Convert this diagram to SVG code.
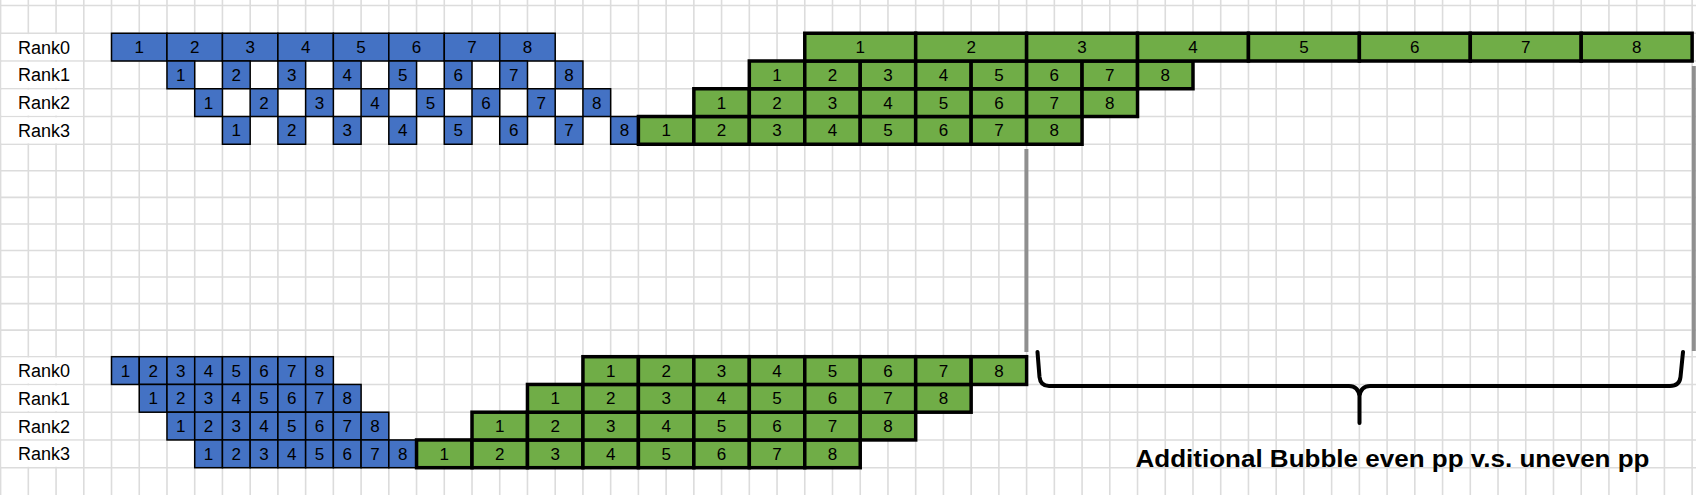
<svg xmlns="http://www.w3.org/2000/svg" width="1696" height="495" viewBox="0 0 1696 495">
<style>
.grid{stroke:#dcdcdc;stroke-width:1.6;fill:none}
.cover{fill:#fff}
.b rect{fill:#4472C4;stroke:#000;stroke-width:1.5}
.g rect{fill:#70AD47;stroke:#000;stroke-width:3.5}
text{font-family:"Liberation Sans",Arial,sans-serif;fill:#000}
.n text{font-size:17px;text-anchor:middle}
.lbl{font-size:18px}
.gray{stroke:#8f8f8f;stroke-width:4;fill:none}
.brace{stroke:#000;stroke-width:4;fill:none;stroke-linecap:round;stroke-linejoin:round}
.note{font-size:23.5px;font-weight:bold}
</style>
<rect width="1696" height="495" fill="#fff"/>
<g id="grid">
<path class="grid" d="M0.6 0V495M28.33 0V495M56.06 0V495M83.79 0V495M111.52 0V495M139.25 0V495M166.98 0V495M194.71 0V495M222.44 0V495M250.17 0V495M277.9 0V495M305.63 0V495M333.36 0V495M361.09 0V495M388.82 0V495M416.55 0V495M444.28 0V495M472.01 0V495M499.74 0V495M527.47 0V495M555.2 0V495M582.93 0V495M610.66 0V495M638.39 0V495M666.12 0V495M693.85 0V495M721.58 0V495M749.31 0V495M777.04 0V495M804.77 0V495M832.5 0V495M860.23 0V495M887.96 0V495M915.69 0V495M943.42 0V495M971.15 0V495M998.88 0V495M1026.61 0V495M1054.34 0V495M1082.07 0V495M1109.8 0V495M1137.53 0V495M1165.26 0V495M1192.99 0V495M1220.72 0V495M1248.45 0V495M1276.18 0V495M1303.91 0V495M1331.64 0V495M1359.37 0V495M1387.1 0V495M1414.83 0V495M1442.56 0V495M1470.29 0V495M1498.02 0V495M1525.75 0V495M1553.48 0V495M1581.21 0V495M1608.94 0V495M1636.67 0V495M1664.4 0V495M1692.13 0V495M0 5.5H1696M0 33.25H1696M0 61H1696M0 88.75H1696M0 116.5H1696M0 144.25H1696M0 170.81H1696M0 197.37H1696M0 223.93H1696M0 250.49H1696M0 277.05H1696M0 303.61H1696M0 330.17H1696M0 356.7H1696M0 384.45H1696M0 412.2H1696M0 439.95H1696M0 467.7H1696"/>
<rect class="cover" x="1.5" y="34.1" width="81.4" height="26"/>
<rect class="cover" x="1.5" y="61.85" width="81.4" height="26"/>
<rect class="cover" x="1.5" y="89.6" width="81.4" height="26"/>
<rect class="cover" x="1.5" y="117.35" width="81.4" height="26"/>
<rect class="cover" x="1.5" y="357.55" width="81.4" height="26"/>
<rect class="cover" x="1.5" y="385.3" width="81.4" height="26"/>
<rect class="cover" x="1.5" y="413.05" width="81.4" height="26"/>
<rect class="cover" x="1.5" y="440.8" width="81.4" height="26"/>
</g>
<g id="labels">
<text class="lbl" x="18" y="53.5">Rank0</text>
<text class="lbl" x="18" y="81.3">Rank1</text>
<text class="lbl" x="18" y="109">Rank2</text>
<text class="lbl" x="18" y="136.8">Rank3</text>
<text class="lbl" x="18" y="377">Rank0</text>
<text class="lbl" x="18" y="404.7">Rank1</text>
<text class="lbl" x="18" y="432.5">Rank2</text>
<text class="lbl" x="18" y="460.2">Rank3</text>
</g>
<!-- TOP: blue (forward) -->
<g id="top-blue" class="b n">
<g id="t-b0-1"><rect x="111.52" y="33.25" width="55.46" height="27.75"/><text x="139.25" y="53.1">1</text></g>
<g id="t-b0-2"><rect x="166.98" y="33.25" width="55.46" height="27.75"/><text x="194.71" y="53.1">2</text></g>
<g id="t-b0-3"><rect x="222.44" y="33.25" width="55.46" height="27.75"/><text x="250.17" y="53.1">3</text></g>
<g id="t-b0-4"><rect x="277.9" y="33.25" width="55.46" height="27.75"/><text x="305.63" y="53.1">4</text></g>
<g id="t-b0-5"><rect x="333.36" y="33.25" width="55.46" height="27.75"/><text x="361.09" y="53.1">5</text></g>
<g id="t-b0-6"><rect x="388.82" y="33.25" width="55.46" height="27.75"/><text x="416.55" y="53.1">6</text></g>
<g id="t-b0-7"><rect x="444.28" y="33.25" width="55.46" height="27.75"/><text x="472.01" y="53.1">7</text></g>
<g id="t-b0-8"><rect x="499.74" y="33.25" width="55.46" height="27.75"/><text x="527.47" y="53.1">8</text></g>
<g id="t-b1-1"><rect x="166.98" y="61" width="27.73" height="27.75"/><text x="180.85" y="80.9">1</text></g>
<g id="t-b1-2"><rect x="222.44" y="61" width="27.73" height="27.75"/><text x="236.31" y="80.9">2</text></g>
<g id="t-b1-3"><rect x="277.9" y="61" width="27.73" height="27.75"/><text x="291.77" y="80.9">3</text></g>
<g id="t-b1-4"><rect x="333.36" y="61" width="27.73" height="27.75"/><text x="347.23" y="80.9">4</text></g>
<g id="t-b1-5"><rect x="388.82" y="61" width="27.73" height="27.75"/><text x="402.69" y="80.9">5</text></g>
<g id="t-b1-6"><rect x="444.28" y="61" width="27.73" height="27.75"/><text x="458.15" y="80.9">6</text></g>
<g id="t-b1-7"><rect x="499.74" y="61" width="27.73" height="27.75"/><text x="513.61" y="80.9">7</text></g>
<g id="t-b1-8"><rect x="555.2" y="61" width="27.73" height="27.75"/><text x="569.07" y="80.9">8</text></g>
<g id="t-b2-1"><rect x="194.71" y="88.75" width="27.73" height="27.75"/><text x="208.58" y="108.6">1</text></g>
<g id="t-b2-2"><rect x="250.17" y="88.75" width="27.73" height="27.75"/><text x="264.04" y="108.6">2</text></g>
<g id="t-b2-3"><rect x="305.63" y="88.75" width="27.73" height="27.75"/><text x="319.5" y="108.6">3</text></g>
<g id="t-b2-4"><rect x="361.09" y="88.75" width="27.73" height="27.75"/><text x="374.96" y="108.6">4</text></g>
<g id="t-b2-5"><rect x="416.55" y="88.75" width="27.73" height="27.75"/><text x="430.42" y="108.6">5</text></g>
<g id="t-b2-6"><rect x="472.01" y="88.75" width="27.73" height="27.75"/><text x="485.88" y="108.6">6</text></g>
<g id="t-b2-7"><rect x="527.47" y="88.75" width="27.73" height="27.75"/><text x="541.34" y="108.6">7</text></g>
<g id="t-b2-8"><rect x="582.93" y="88.75" width="27.73" height="27.75"/><text x="596.8" y="108.6">8</text></g>
<g id="t-b3-1"><rect x="222.44" y="116.5" width="27.73" height="27.75"/><text x="236.31" y="136.4">1</text></g>
<g id="t-b3-2"><rect x="277.9" y="116.5" width="27.73" height="27.75"/><text x="291.77" y="136.4">2</text></g>
<g id="t-b3-3"><rect x="333.36" y="116.5" width="27.73" height="27.75"/><text x="347.23" y="136.4">3</text></g>
<g id="t-b3-4"><rect x="388.82" y="116.5" width="27.73" height="27.75"/><text x="402.69" y="136.4">4</text></g>
<g id="t-b3-5"><rect x="444.28" y="116.5" width="27.73" height="27.75"/><text x="458.15" y="136.4">5</text></g>
<g id="t-b3-6"><rect x="499.74" y="116.5" width="27.73" height="27.75"/><text x="513.61" y="136.4">6</text></g>
<g id="t-b3-7"><rect x="555.2" y="116.5" width="27.73" height="27.75"/><text x="569.07" y="136.4">7</text></g>
<g id="t-b3-8"><rect x="610.66" y="116.5" width="27.73" height="27.75"/><text x="624.53" y="136.4">8</text></g>
</g>
<!-- TOP: green (backward) -->
<g id="top-green" class="g n">
<g id="t-g3-1"><rect x="638.39" y="116.5" width="55.46" height="27.75"/><text x="666.12" y="136.4">1</text></g>
<g id="t-g3-2"><rect x="693.85" y="116.5" width="55.46" height="27.75"/><text x="721.58" y="136.4">2</text></g>
<g id="t-g3-3"><rect x="749.31" y="116.5" width="55.46" height="27.75"/><text x="777.04" y="136.4">3</text></g>
<g id="t-g3-4"><rect x="804.77" y="116.5" width="55.46" height="27.75"/><text x="832.5" y="136.4">4</text></g>
<g id="t-g3-5"><rect x="860.23" y="116.5" width="55.46" height="27.75"/><text x="887.96" y="136.4">5</text></g>
<g id="t-g3-6"><rect x="915.69" y="116.5" width="55.46" height="27.75"/><text x="943.42" y="136.4">6</text></g>
<g id="t-g3-7"><rect x="971.15" y="116.5" width="55.46" height="27.75"/><text x="998.88" y="136.4">7</text></g>
<g id="t-g3-8"><rect x="1026.61" y="116.5" width="55.46" height="27.75"/><text x="1054.34" y="136.4">8</text></g>
<g id="t-g2-1"><rect x="693.85" y="88.75" width="55.46" height="27.75"/><text x="721.58" y="108.6">1</text></g>
<g id="t-g2-2"><rect x="749.31" y="88.75" width="55.46" height="27.75"/><text x="777.04" y="108.6">2</text></g>
<g id="t-g2-3"><rect x="804.77" y="88.75" width="55.46" height="27.75"/><text x="832.5" y="108.6">3</text></g>
<g id="t-g2-4"><rect x="860.23" y="88.75" width="55.46" height="27.75"/><text x="887.96" y="108.6">4</text></g>
<g id="t-g2-5"><rect x="915.69" y="88.75" width="55.46" height="27.75"/><text x="943.42" y="108.6">5</text></g>
<g id="t-g2-6"><rect x="971.15" y="88.75" width="55.46" height="27.75"/><text x="998.88" y="108.6">6</text></g>
<g id="t-g2-7"><rect x="1026.61" y="88.75" width="55.46" height="27.75"/><text x="1054.34" y="108.6">7</text></g>
<g id="t-g2-8"><rect x="1082.07" y="88.75" width="55.46" height="27.75"/><text x="1109.8" y="108.6">8</text></g>
<g id="t-g1-1"><rect x="749.31" y="61" width="55.46" height="27.75"/><text x="777.04" y="80.9">1</text></g>
<g id="t-g1-2"><rect x="804.77" y="61" width="55.46" height="27.75"/><text x="832.5" y="80.9">2</text></g>
<g id="t-g1-3"><rect x="860.23" y="61" width="55.46" height="27.75"/><text x="887.96" y="80.9">3</text></g>
<g id="t-g1-4"><rect x="915.69" y="61" width="55.46" height="27.75"/><text x="943.42" y="80.9">4</text></g>
<g id="t-g1-5"><rect x="971.15" y="61" width="55.46" height="27.75"/><text x="998.88" y="80.9">5</text></g>
<g id="t-g1-6"><rect x="1026.61" y="61" width="55.46" height="27.75"/><text x="1054.34" y="80.9">6</text></g>
<g id="t-g1-7"><rect x="1082.07" y="61" width="55.46" height="27.75"/><text x="1109.8" y="80.9">7</text></g>
<g id="t-g1-8"><rect x="1137.53" y="61" width="55.46" height="27.75"/><text x="1165.26" y="80.9">8</text></g>
<g id="t-g0-1"><rect x="804.77" y="33.25" width="110.92" height="27.75"/><text x="860.23" y="53.1">1</text></g>
<g id="t-g0-2"><rect x="915.69" y="33.25" width="110.92" height="27.75"/><text x="971.15" y="53.1">2</text></g>
<g id="t-g0-3"><rect x="1026.61" y="33.25" width="110.92" height="27.75"/><text x="1082.07" y="53.1">3</text></g>
<g id="t-g0-4"><rect x="1137.53" y="33.25" width="110.92" height="27.75"/><text x="1192.99" y="53.1">4</text></g>
<g id="t-g0-5"><rect x="1248.45" y="33.25" width="110.92" height="27.75"/><text x="1303.91" y="53.1">5</text></g>
<g id="t-g0-6"><rect x="1359.37" y="33.25" width="110.92" height="27.75"/><text x="1414.83" y="53.1">6</text></g>
<g id="t-g0-7"><rect x="1470.29" y="33.25" width="110.92" height="27.75"/><text x="1525.75" y="53.1">7</text></g>
<g id="t-g0-8"><rect x="1581.21" y="33.25" width="110.92" height="27.75"/><text x="1636.67" y="53.1">8</text></g>
</g>
<!-- BOTTOM: blue -->
<g id="bottom-blue" class="b n">
<g id="b-b0-1"><rect x="111.52" y="356.7" width="27.73" height="27.75"/><text x="125.39" y="376.6">1</text></g>
<g id="b-b0-2"><rect x="139.25" y="356.7" width="27.73" height="27.75"/><text x="153.12" y="376.6">2</text></g>
<g id="b-b0-3"><rect x="166.98" y="356.7" width="27.73" height="27.75"/><text x="180.85" y="376.6">3</text></g>
<g id="b-b0-4"><rect x="194.71" y="356.7" width="27.73" height="27.75"/><text x="208.58" y="376.6">4</text></g>
<g id="b-b0-5"><rect x="222.44" y="356.7" width="27.73" height="27.75"/><text x="236.31" y="376.6">5</text></g>
<g id="b-b0-6"><rect x="250.17" y="356.7" width="27.73" height="27.75"/><text x="264.04" y="376.6">6</text></g>
<g id="b-b0-7"><rect x="277.9" y="356.7" width="27.73" height="27.75"/><text x="291.77" y="376.6">7</text></g>
<g id="b-b0-8"><rect x="305.63" y="356.7" width="27.73" height="27.75"/><text x="319.5" y="376.6">8</text></g>
<g id="b-b1-1"><rect x="139.25" y="384.45" width="27.73" height="27.75"/><text x="153.12" y="404.3">1</text></g>
<g id="b-b1-2"><rect x="166.98" y="384.45" width="27.73" height="27.75"/><text x="180.85" y="404.3">2</text></g>
<g id="b-b1-3"><rect x="194.71" y="384.45" width="27.73" height="27.75"/><text x="208.58" y="404.3">3</text></g>
<g id="b-b1-4"><rect x="222.44" y="384.45" width="27.73" height="27.75"/><text x="236.31" y="404.3">4</text></g>
<g id="b-b1-5"><rect x="250.17" y="384.45" width="27.73" height="27.75"/><text x="264.04" y="404.3">5</text></g>
<g id="b-b1-6"><rect x="277.9" y="384.45" width="27.73" height="27.75"/><text x="291.77" y="404.3">6</text></g>
<g id="b-b1-7"><rect x="305.63" y="384.45" width="27.73" height="27.75"/><text x="319.5" y="404.3">7</text></g>
<g id="b-b1-8"><rect x="333.36" y="384.45" width="27.73" height="27.75"/><text x="347.23" y="404.3">8</text></g>
<g id="b-b2-1"><rect x="166.98" y="412.2" width="27.73" height="27.75"/><text x="180.85" y="432.1">1</text></g>
<g id="b-b2-2"><rect x="194.71" y="412.2" width="27.73" height="27.75"/><text x="208.58" y="432.1">2</text></g>
<g id="b-b2-3"><rect x="222.44" y="412.2" width="27.73" height="27.75"/><text x="236.31" y="432.1">3</text></g>
<g id="b-b2-4"><rect x="250.17" y="412.2" width="27.73" height="27.75"/><text x="264.04" y="432.1">4</text></g>
<g id="b-b2-5"><rect x="277.9" y="412.2" width="27.73" height="27.75"/><text x="291.77" y="432.1">5</text></g>
<g id="b-b2-6"><rect x="305.63" y="412.2" width="27.73" height="27.75"/><text x="319.5" y="432.1">6</text></g>
<g id="b-b2-7"><rect x="333.36" y="412.2" width="27.73" height="27.75"/><text x="347.23" y="432.1">7</text></g>
<g id="b-b2-8"><rect x="361.09" y="412.2" width="27.73" height="27.75"/><text x="374.96" y="432.1">8</text></g>
<g id="b-b3-1"><rect x="194.71" y="439.95" width="27.73" height="27.75"/><text x="208.58" y="459.8">1</text></g>
<g id="b-b3-2"><rect x="222.44" y="439.95" width="27.73" height="27.75"/><text x="236.31" y="459.8">2</text></g>
<g id="b-b3-3"><rect x="250.17" y="439.95" width="27.73" height="27.75"/><text x="264.04" y="459.8">3</text></g>
<g id="b-b3-4"><rect x="277.9" y="439.95" width="27.73" height="27.75"/><text x="291.77" y="459.8">4</text></g>
<g id="b-b3-5"><rect x="305.63" y="439.95" width="27.73" height="27.75"/><text x="319.5" y="459.8">5</text></g>
<g id="b-b3-6"><rect x="333.36" y="439.95" width="27.73" height="27.75"/><text x="347.23" y="459.8">6</text></g>
<g id="b-b3-7"><rect x="361.09" y="439.95" width="27.73" height="27.75"/><text x="374.96" y="459.8">7</text></g>
<g id="b-b3-8"><rect x="388.82" y="439.95" width="27.73" height="27.75"/><text x="402.69" y="459.8">8</text></g>
</g>
<!-- BOTTOM: green -->
<g id="bottom-green" class="g n">
<g id="b-g3-1"><rect x="416.55" y="439.95" width="55.46" height="27.75"/><text x="444.28" y="459.8">1</text></g>
<g id="b-g3-2"><rect x="472.01" y="439.95" width="55.46" height="27.75"/><text x="499.74" y="459.8">2</text></g>
<g id="b-g3-3"><rect x="527.47" y="439.95" width="55.46" height="27.75"/><text x="555.2" y="459.8">3</text></g>
<g id="b-g3-4"><rect x="582.93" y="439.95" width="55.46" height="27.75"/><text x="610.66" y="459.8">4</text></g>
<g id="b-g3-5"><rect x="638.39" y="439.95" width="55.46" height="27.75"/><text x="666.12" y="459.8">5</text></g>
<g id="b-g3-6"><rect x="693.85" y="439.95" width="55.46" height="27.75"/><text x="721.58" y="459.8">6</text></g>
<g id="b-g3-7"><rect x="749.31" y="439.95" width="55.46" height="27.75"/><text x="777.04" y="459.8">7</text></g>
<g id="b-g3-8"><rect x="804.77" y="439.95" width="55.46" height="27.75"/><text x="832.5" y="459.8">8</text></g>
<g id="b-g2-1"><rect x="472.01" y="412.2" width="55.46" height="27.75"/><text x="499.74" y="432.1">1</text></g>
<g id="b-g2-2"><rect x="527.47" y="412.2" width="55.46" height="27.75"/><text x="555.2" y="432.1">2</text></g>
<g id="b-g2-3"><rect x="582.93" y="412.2" width="55.46" height="27.75"/><text x="610.66" y="432.1">3</text></g>
<g id="b-g2-4"><rect x="638.39" y="412.2" width="55.46" height="27.75"/><text x="666.12" y="432.1">4</text></g>
<g id="b-g2-5"><rect x="693.85" y="412.2" width="55.46" height="27.75"/><text x="721.58" y="432.1">5</text></g>
<g id="b-g2-6"><rect x="749.31" y="412.2" width="55.46" height="27.75"/><text x="777.04" y="432.1">6</text></g>
<g id="b-g2-7"><rect x="804.77" y="412.2" width="55.46" height="27.75"/><text x="832.5" y="432.1">7</text></g>
<g id="b-g2-8"><rect x="860.23" y="412.2" width="55.46" height="27.75"/><text x="887.96" y="432.1">8</text></g>
<g id="b-g1-1"><rect x="527.47" y="384.45" width="55.46" height="27.75"/><text x="555.2" y="404.3">1</text></g>
<g id="b-g1-2"><rect x="582.93" y="384.45" width="55.46" height="27.75"/><text x="610.66" y="404.3">2</text></g>
<g id="b-g1-3"><rect x="638.39" y="384.45" width="55.46" height="27.75"/><text x="666.12" y="404.3">3</text></g>
<g id="b-g1-4"><rect x="693.85" y="384.45" width="55.46" height="27.75"/><text x="721.58" y="404.3">4</text></g>
<g id="b-g1-5"><rect x="749.31" y="384.45" width="55.46" height="27.75"/><text x="777.04" y="404.3">5</text></g>
<g id="b-g1-6"><rect x="804.77" y="384.45" width="55.46" height="27.75"/><text x="832.5" y="404.3">6</text></g>
<g id="b-g1-7"><rect x="860.23" y="384.45" width="55.46" height="27.75"/><text x="887.96" y="404.3">7</text></g>
<g id="b-g1-8"><rect x="915.69" y="384.45" width="55.46" height="27.75"/><text x="943.42" y="404.3">8</text></g>
<g id="b-g0-1"><rect x="582.93" y="356.7" width="55.46" height="27.75"/><text x="610.66" y="376.6">1</text></g>
<g id="b-g0-2"><rect x="638.39" y="356.7" width="55.46" height="27.75"/><text x="666.12" y="376.6">2</text></g>
<g id="b-g0-3"><rect x="693.85" y="356.7" width="55.46" height="27.75"/><text x="721.58" y="376.6">3</text></g>
<g id="b-g0-4"><rect x="749.31" y="356.7" width="55.46" height="27.75"/><text x="777.04" y="376.6">4</text></g>
<g id="b-g0-5"><rect x="804.77" y="356.7" width="55.46" height="27.75"/><text x="832.5" y="376.6">5</text></g>
<g id="b-g0-6"><rect x="860.23" y="356.7" width="55.46" height="27.75"/><text x="887.96" y="376.6">6</text></g>
<g id="b-g0-7"><rect x="915.69" y="356.7" width="55.46" height="27.75"/><text x="943.42" y="376.6">7</text></g>
<g id="b-g0-8"><rect x="971.15" y="356.7" width="55.46" height="27.75"/><text x="998.88" y="376.6">8</text></g>
</g>
<g id="connectors">
<line class="gray" x1="1026.4" y1="149" x2="1026.4" y2="352"/>
<line class="gray" x1="1693.8" y1="66" x2="1693.8" y2="351"/>
<path class="brace" d="M1037.5 352L1039.5 377Q1040.5 386 1049 386L1349 386Q1358 386 1359.5 396L1359.5 423M1359.5 396Q1361 386 1370 386L1670 386Q1679.5 386 1680.5 377L1683 352"/>
</g>
<text id="note" class="note" x="1135.5" y="467" textLength="514" lengthAdjust="spacingAndGlyphs">Additional Bubble even pp v.s. uneven pp</text>
</svg>
